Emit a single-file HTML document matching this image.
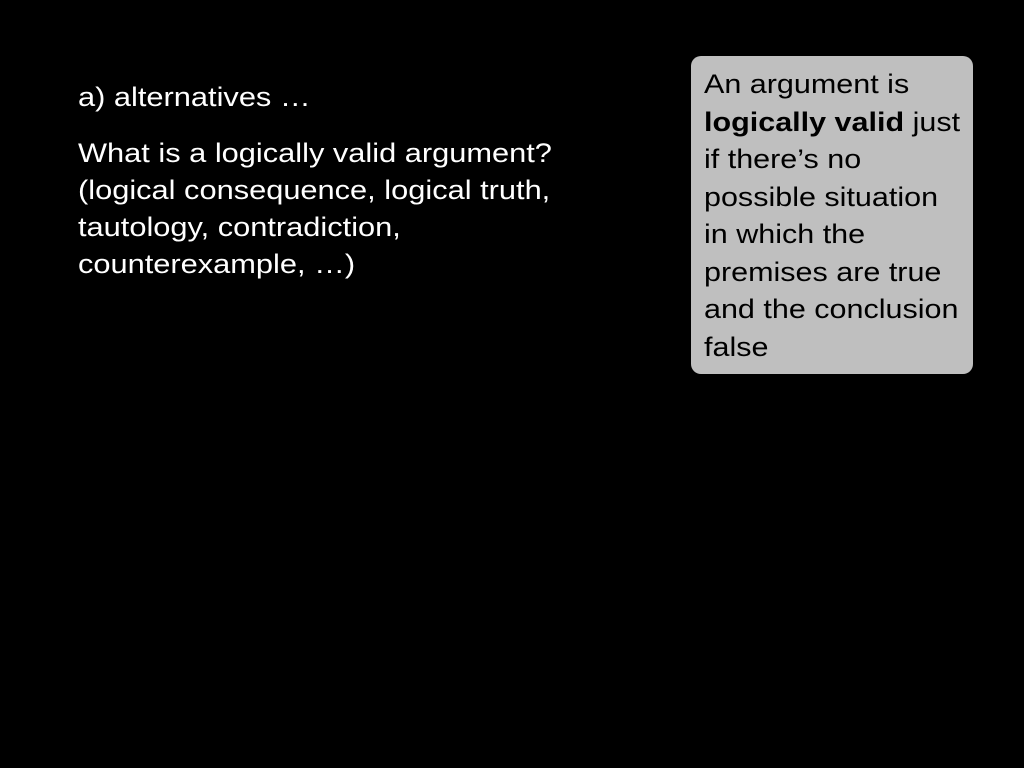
<!DOCTYPE html>
<html><head><meta charset="utf-8"><style>
html,body{margin:0;padding:0;background:#000;width:1024px;height:768px;overflow:hidden}
body{position:relative;font-family:"Liberation Sans",sans-serif}
.t{position:absolute;color:#fff;font-size:27px;line-height:37px;white-space:nowrap;transform:scaleX(1.14);transform-origin:0 0}
.box{position:absolute;left:691px;top:56px;width:282px;height:318px;background:#bfbfbf;border-radius:10px}
.bt{position:absolute;left:704px;top:66px;color:#000;font-size:27px;line-height:37.5px;white-space:nowrap;transform:scaleX(1.13);transform-origin:0 0}
</style></head><body>
<div class="t" style="left:78px;top:79px">a) alternatives …</div>
<div class="t" style="left:78px;top:135px">What is a logically valid argument?<br>(logical consequence, logical truth,<br>tautology, contradiction,<br>counterexample, …)</div>
<div class="box"></div>
<div class="bt">An argument is<br><b>logically valid</b> just<br>if there’s no<br>possible situation<br>in which the<br>premises are true<br>and the conclusion<br>false</div>
</body></html>
